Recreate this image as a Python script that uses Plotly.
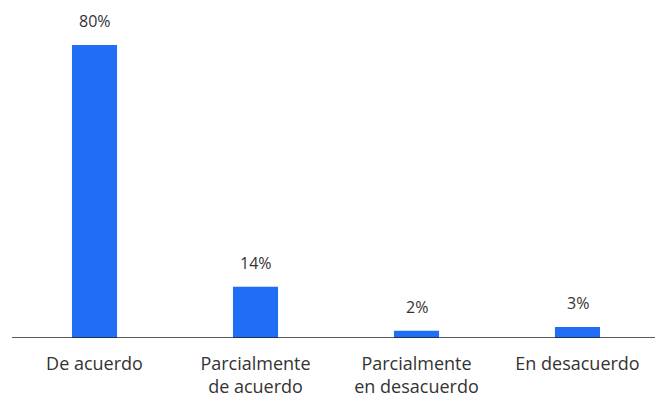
import plotly.graph_objects as go

categories = ["De acuerdo", "Parcialmente<br>de acuerdo", "Parcialmente<br>en desacuerdo", "En desacuerdo"]
values = [80, 14, 2, 3]
labels = ["80%", "14%", "2%", "3%"]

blue = "#1f6ef5"
font_family = "'Open Sans', sans-serif"

fig = go.Figure(go.Bar(
    x=categories, y=values, marker=dict(color=blue, line=dict(width=0)),
    hoverinfo="skip",
))

for c, v, t in zip(categories, values, labels):
    fig.add_annotation(x=c, y=v, text=t, showarrow=False, yanchor="bottom",
                       yshift=11, font=dict(size=16, color="#333333"))

# baseline
fig.add_shape(type="line", xref="paper", yref="y", x0=-0.003, x1=1.01, y0=0, y1=0,
              line=dict(color="#222222", width=1.5))

# page body has an 8px margin, so the figure is a little smaller than the window
fig.update_layout(
    width=655, height=390,
    margin=dict(l=6, r=5, t=8, b=60, autoexpand=False),
    paper_bgcolor="white", plot_bgcolor="white",
    bargap=0.72, showlegend=False,
    font=dict(family=font_family, size=18, color="#333333"),
    xaxis=dict(showline=False, showgrid=False, ticks="", ticklabelstandoff=13,
               automargin=False),
    yaxis=dict(range=[0, 87.9], visible=False, showgrid=False, automargin=False),
)

fig.write_html("out.html")
